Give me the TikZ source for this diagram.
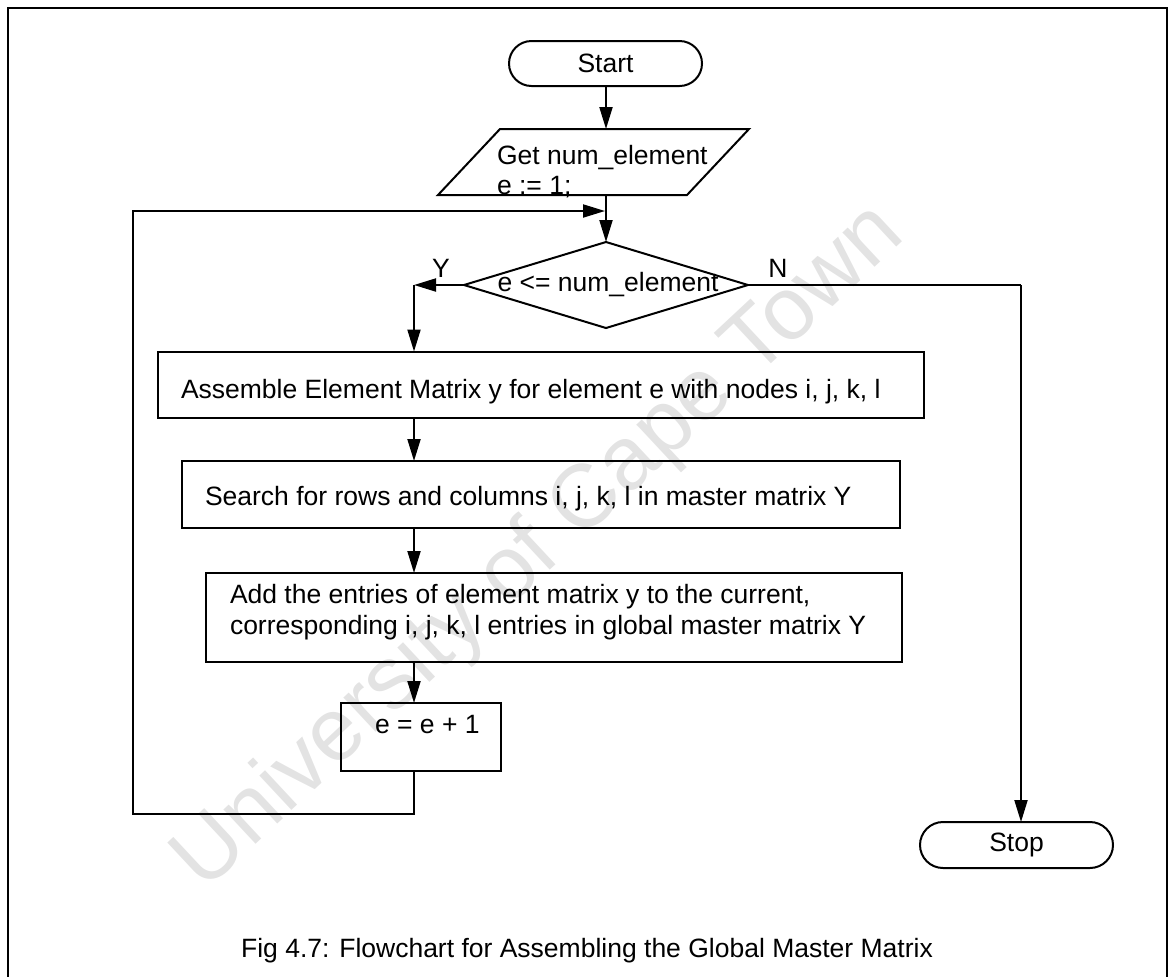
\documentclass[tikz,border=0pt]{standalone}
\usepackage{fontspec}
\setmainfont{Liberation Sans}
\usetikzlibrary{arrows.meta,shapes.geometric,shapes.misc}
\begin{document}
\begin{tikzpicture}[x=0.5pt,y=-0.5pt,
  line width=1pt,
  every node/.style={inner sep=0pt, outer sep=0pt},
  txt/.style={font=\fontsize{13.25pt}{15.5pt}\selectfont},
  terminal/.style={draw, rounded rectangle, minimum width=96.5pt, minimum height=22.5pt, txt},
  procbox/.style={draw, rectangle},
  decision/.style={draw, diamond, minimum width=142pt, minimum height=43pt},
  flow/.style={-{Triangle[length=11pt,width=6.5pt]}},
  wmtext/.style={text=black!11, font=\fontsize{44.5pt}{50pt}\selectfont}]
\useasboundingbox (0,0) rectangle (1172,976);

% faint watermark across the page
\node[wmtext, rotate=43] (watermark) at (540,548) {University of Cape Town};

% page frame (open at the bottom)
\draw[line width=1.1pt] (8,990) -- (8,8) -- (1167,8) -- (1167,990);

% terminals
\node[terminal] (start) at (605.5,63.5) {Start};
\node[terminal, minimum height=23pt] (stop) at (1016.5,845) {Stop};

% input parallelogram
\draw (500,129) -- (749,129) -- (687,195) -- (438,195) -- cycle;
\coordinate (inTop) at (606,129);
\coordinate (inBot) at (606,195);
\node[txt, anchor=base west] (in1) at (497,164) {Get num\_element};
\node[txt, anchor=base west] (in2) at (497,194) {e := 1;};

% decision
\node[decision] (dec) at (606,285) {};
\node[txt] (decT) at (608,285) {e <= num\_element};
\node[txt, anchor=base] (ylab) at (441,277) {Y};
\node[txt, anchor=base] (nlab) at (778,277) {N};

% process boxes
\node[procbox, minimum width=383pt, minimum height=33pt] (assemble) at (540.5,384.5) {};
\node[txt, anchor=base west] (assembleT) at (181,398) {Assemble Element Matrix y for element e with nodes i, j, k, l};

\node[procbox, minimum width=359pt, minimum height=33.5pt] (search) at (541,494.5) {};
\node[txt, anchor=base west] (searchT) at (205,505) {Search for rows and columns i, j, k, l in master matrix Y};

\node[procbox, minimum width=348pt, minimum height=44.5pt] (add) at (554,617.5) {};
\node[txt, anchor=base west] (add1) at (230,603) {Add the entries of element matrix y to the current,};
\node[txt, anchor=base west] (add2) at (230,634) {corresponding i, j, k, l entries in global master matrix Y};

\node[procbox, minimum width=80pt, minimum height=34pt] (inc) at (421,737) {};
\node[txt, anchor=base west] (incT) at (375,733) {e = e + 1};

% connectors
\coordinate (col) at (414,0);
\coordinate (yturn) at (414,285);
\coordinate (nturn) at (1021,285);
\coordinate (loopA) at (414,814);
\coordinate (loopB) at (133,814);
\coordinate (loopC) at (133,211);
\coordinate (loopEnd) at (605,211);

\draw[flow] (start.south -| inTop) -- (inTop);
\draw[flow] (inBot) -- (dec.north);
\draw[flow] (dec.west) -- (yturn);
\draw[flow] (yturn) -- (assemble.north -| yturn);
\draw (dec.east) -- (nturn);
\draw[flow] (nturn) -- (nturn |- stop.north);
\draw[flow] (assemble.south -| col) -- (search.north -| col);
\draw[flow] (search.south -| col) -- (add.north -| col);
\draw[flow] (add.south -| col) -- (inc.north -| col);
\draw[flow] (inc.south -| col) -- (loopA) -- (loopB) -- (loopC) -- (loopEnd);

% caption
\node[txt, anchor=base] (caption) at (587,957) {Fig 4.7: Flowchart for Assembling the Global Master Matrix};
\end{tikzpicture}
\end{document}
